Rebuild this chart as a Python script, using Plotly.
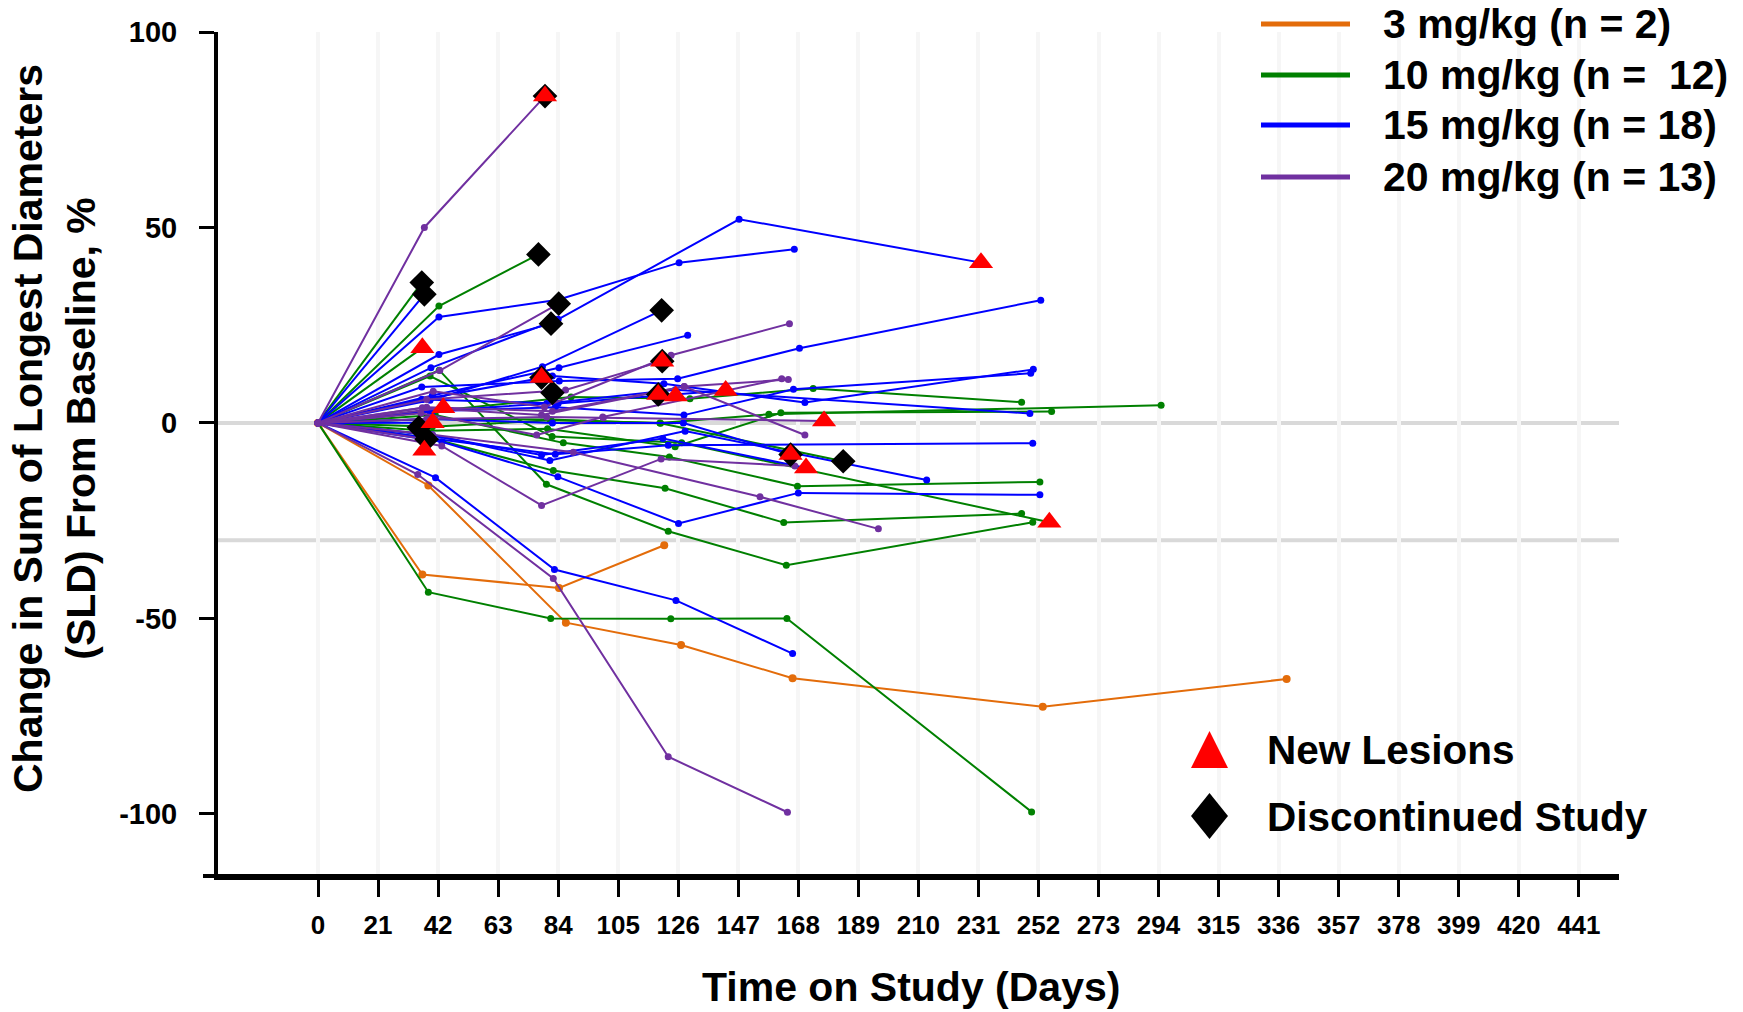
import plotly.graph_objects as go

# ---------------- data: per-patient SLD change (%) by study day ----------------
dose_labels = ["3 mg/kg (n = 2)", "10 mg/kg (n =  12)", "15 mg/kg (n = 18)", "20 mg/kg (n = 13)"]
dose_colors = ["#E36C0A", "#008000", "#0000FF", "#7030A0"]

days_3mg = [
    [0, 36.5, 84.3, 121.1],
    [0, 38.6, 86.7, 127, 166, 253.5, 338.8],
]
pct_3mg = [
    [0, -38.8, -42.2, -31.3],
    [0, -16, -51.1, -56.8, -65.3, -72.6, -65.5],
]

days_10mg = [
    [0, 36.3],
    [0, 42.3, 77.1],
    [0, 36.5],
    [0, 38.6, 81.4, 123.4, 164, 249.6],
    [0, 42.4, 79.9, 122.5, 163.8, 250],
    [0, 39.2, 81.9, 127.2, 255.8],
    [0, 40, 82.3, 121.4, 162.9, 246.1],
    [0, 41, 85.8, 122.9, 167.7, 252.5],
    [0, 40, 81.5, 119.6, 157.7, 294.9],
    [0, 41, 88.5, 130.1, 173.2, 246.1],
    [0, 38, 80.3, 124.9, 161.9, 256.6],
    [0, 39, 81.1, 119.8, 183.7],
]
pct_10mg = [
    [0, 35.9],
    [0, 29.9, 43.1],
    [0, 19.2],
    [0, -43.3, -50, -50.1, -50, -99.5],
    [0, 13.5, -15.7, -27.7, -36.4, -25.4],
    [0, 12, -3.5, -5.1, -25.4],
    [0, -4, -12.2, -16.7, -25.5, -23.2],
    [0, 2, -5.1, -8.7, -16.2, -15.1],
    [0, -1, 0.7, 0, 2.2, 4.5],
    [0, 3, 6.6, 6.2, 8.8, 5.3],
    [0, -2, -1.5, -6.1, 2.6, 2.9],
    [0, 1, 0.9, -0.1, -9.8],
]

days_15mg = [
    [0, 39.5, 84, 147.3, 231.9],
    [0, 42.3, 81.5],
    [0, 42.3, 84, 126.3, 166.6],
    [0, 37.2],
    [0, 39.2, 78.5, 120.2],
    [0, 36.3, 84.4, 125.8, 168.4, 252.8],
    [0, 40, 84.3, 129.3],
    [0, 36.3, 82, 121, 170.3, 250.2],
    [0, 39, 83, 128, 166.3, 249.3],
    [0, 40, 80, 125, 249],
    [0, 40, 83, 122.5, 250],
    [0, 40, 81.1, 128.4, 212.9],
    [0, 43.3, 83.9, 126.1, 168, 252.5],
    [0, 41.1, 82.7, 125.2, 166],
    [0, 38, 78.2, 120.6, 170.7],
    [0, 39, 82, 127.8, 165.3],
    [0, 40.1],
    [0, 36.3, 84, 142.6],
]
pct_15mg = [
    [0, 14.1, 26.5, 52.1, 41.0],
    [0, 17.5, 25.4],
    [0, 27.1, 31.5, 41.0, 44.4],
    [0, 32.9],
    [0, 5.8, 14.4, 28.8],
    [0, 9.2, 10.7, 11.3, 19.1, 31.4],
    [0, 7, 14.1, 22.4],
    [0, 6.0, 12, 10, 5.2, 13.7],
    [0, 3, 4, 2, 8.6, 12.7],
    [0, 3, 5, 8.5, 2.4],
    [0, -4, -8, -5.7, -5.2],
    [0, -3, -9.6, -2.1, -14.6],
    [0, -4.8, -13.8, -25.7, -17.9, -18.4],
    [0, -14, -37.5, -45.4, -59],
    [0, -3, -8.2, -4.0, -11.5],
    [0, 1, 0, 0, -8.1],
    [0, 0.05],
    [0, 6.0, 5, 8.3],
]

days_20mg = [
    [0, 37.2, 79.4],
    [0, 34.9, 82.3, 122.5, 164.2],
    [0, 43.3, 78.2, 120, 166.8],
    [0, 42.6, 84.2],
    [0, 40.3, 79.2, 123.5, 164.9],
    [0, 36.5, 78.2, 128.1, 164.5],
    [0, 38, 86.6, 120.4],
    [0, 36, 76.5, 99.6, 162.2],
    [0, 40, 89.3, 154.6, 196],
    [0, 38, 80, 99.8, 177],
    [0, 38],
    [0, 43.8],
    [0, 38, 82, 128.1, 170.3],
]
pct_20mg = [
    [0, 50, 83.6],
    [0, -13.2, -39.8, -85.4, -99.6],
    [0, -5.9, -21.1, -9.2, -11],
    [0, 13.4, 30.5],
    [0, 8.1, 4.1, 17.3, 25.4],
    [0, 3.9, 2.0, 9.3, 11.1],
    [0, 6, 8.4, 15.8],
    [0, 2.5, -3.1, 1.5, 11.3],
    [0, -3, -7.5, -18.9, -27.1],
    [0, 1, 1.5, 1.3, 0.5],
    [0, -4.2],
    [0, 3.9],
    [0, 4, 3, 9.3, -3.1],
]

# events
discontinued_day = [79.4, 77.1, 36.3, 37.2, 84.2, 81.5, 120.2, 120.4, 78.2, 82, 119, 35.3, 38, 165.3, 183.7]
discontinued_pct = [83.6, 43.1, 35.9, 32.9, 30.5, 25.4, 28.8, 15.8, 11.6, 7.7, 7.3, -1.2, -4.2, -8.1, -9.8]
new_lesion_day = [79.4, 231.9, 36.5, 120.4, 78.2, 119, 125.1, 43.8, 40.1, 37.2, 142.6, 177, 165.3, 170.7, 255.8]
new_lesion_pct = [83.6, 41.0, 19.2, 15.8, 11.6, 7.3, 6.9, 3.9, 0.05, -7.0, 8.3, 0.5, -8.1, -11.5, -25.4]

x_ticks = list(range(0, 442, 21))
y_ticks = [100, 50, 0, -50, -100]

# ---------------- layout geometry (pixels) ----------------
W, H = 1743, 1012
ML, MR, MT, MB = 218, 124, 32, 136
PW, PH = W - ML - MR, H - MT - MB


def fx(px):
    return (px - ML) / PW


def fy(py):
    return (H - MB - py) / PH


FONT = "Liberation Sans, Arial, sans-serif"

fig = go.Figure()

groups = [
    (days_3mg, pct_3mg, 8),
    (days_10mg, pct_10mg, 7),
    (days_15mg, pct_15mg, 7),
    (days_20mg, pct_20mg, 7),
]
for (days, pcts, msize), color, label in zip(groups, dose_colors, dose_labels):
    xs, ys = [], []
    for d, p in zip(days, pcts):
        xs += d + [None]
        ys += p + [None]
    fig.add_trace(go.Scatter(
        x=xs, y=ys, mode="lines+markers", name=label, connectgaps=False,
        line=dict(color=color, width=2),
        marker=dict(color=color, size=msize),
        showlegend=False, hoverinfo="skip",
    ))

fig.add_trace(go.Scatter(
    x=discontinued_day, y=discontinued_pct, mode="markers", name="Discontinued Study",
    marker=dict(symbol="diamond", size=19, color="black", line=dict(width=0)),
    showlegend=False,
))
fig.add_trace(go.Scatter(
    x=new_lesion_day, y=new_lesion_pct, mode="markers", name="New Lesions",
    marker=dict(symbol="triangle-up", size=21, color="#FF0000", line=dict(width=0)),
    showlegend=False,
))

shapes = []
# reference lines at 0% and -30%
for yv in (0, -30):
    shapes.append(dict(type="line", xref="paper", yref="y", x0=0, x1=1, y0=yv, y1=yv,
                       line=dict(color="#d9d9d9", width=4), layer="below"))
# x-axis line runs slightly past the y-axis on the left
shapes.append(dict(type="line", xref="paper", yref="paper", x0=fx(203), x1=1, y0=0, y1=0,
                   line=dict(color="black", width=4)))

annotations = []
# dose legend
legend_rows = [24, 75, 125, 177]
for row_y, color, label in zip(legend_rows, dose_colors, dose_labels):
    shapes.append(dict(type="line", xref="paper", yref="paper",
                       x0=fx(1261), x1=fx(1350), y0=fy(row_y), y1=fy(row_y),
                       line=dict(color=color, width=5)))
    annotations.append(dict(xref="paper", yref="paper", x=fx(1381), y=fy(row_y),
                            xanchor="left", yanchor="middle", showarrow=False, text=label,
                            font=dict(family=FONT, size=41, color="black", weight="bold")))

# event legend glyphs
tri = [(1191, 768), (1228, 768), (1209.5, 731)]
dia = [(1209.5, 793), (1228, 816), (1209.5, 839), (1191, 816)]
tri_path = "M " + " L ".join(f"{fx(a):.5f},{fy(b):.5f}" for a, b in tri) + " Z"
dia_path = "M " + " L ".join(f"{fx(a):.5f},{fy(b):.5f}" for a, b in dia) + " Z"
shapes.append(dict(type="path", xref="paper", yref="paper", path=tri_path,
                   fillcolor="#FF0000", line=dict(width=0)))
shapes.append(dict(type="path", xref="paper", yref="paper", path=dia_path,
                   fillcolor="black", line=dict(width=0)))
for row_y, label in ((750, "New Lesions"), (817, "Discontinued Study")):
    annotations.append(dict(xref="paper", yref="paper", x=fx(1265), y=fy(row_y),
                            xanchor="left", yanchor="middle", showarrow=False, text=label,
                            font=dict(family=FONT, size=40.5, color="black", weight="bold")))

# axis titles
annotations.append(dict(xref="paper", yref="paper", x=fx(911), y=fy(987),
                        xanchor="center", yanchor="middle", showarrow=False,
                        text="Time on Study (Days)",
                        font=dict(family=FONT, size=41, color="black", weight="bold")))
annotations.append(dict(xref="paper", yref="paper", x=fx(54), y=fy(429),
                        xanchor="center", yanchor="middle", showarrow=False, textangle=-90,
                        text="Change in Sum of Longest Diameters<br>(SLD) From Baseline, %",
                        font=dict(family=FONT, size=41, color="black", weight="bold")))

x_lo = -100 / 2.859
x_hi = x_lo + PW / 2.859

fig.update_layout(
    width=W, height=H,
    margin=dict(l=ML, r=MR, t=MT, b=MB, pad=0),
    paper_bgcolor="white", plot_bgcolor="white",
    showlegend=False,
    shapes=shapes, annotations=annotations,
    xaxis=dict(
        range=[x_lo, x_hi], tickvals=x_ticks, ticktext=[str(v) for v in x_ticks],
        showgrid=True, gridcolor="#f6f6f6", gridwidth=4, zeroline=False,
        showline=True, linecolor="black", linewidth=4,
        ticks="outside", ticklen=17, tickwidth=3, tickcolor="black",
        ticklabelstandoff=6,
        tickfont=dict(family=FONT, size=26, color="black", weight="bold"),
    ),
    yaxis=dict(
        range=[-115.9, 100], tickvals=y_ticks, ticktext=[str(v) for v in y_ticks],
        showgrid=False, zeroline=False,
        showline=True, linecolor="black", linewidth=4,
        ticks="outside", ticklen=15, tickwidth=3, tickcolor="black",
        ticklabelstandoff=16,
        tickfont=dict(family=FONT, size=29, color="black", weight="bold"),
    ),
)

fig.write_html("out.html")
